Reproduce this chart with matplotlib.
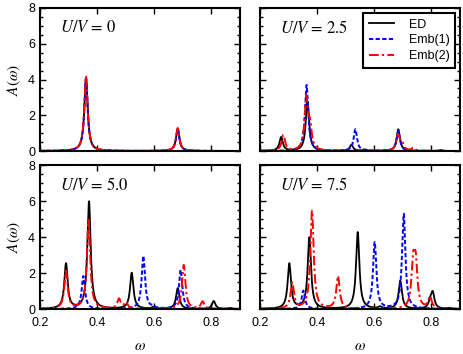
import numpy as np
import matplotlib

matplotlib.use("Agg")
import matplotlib.pyplot as plt
from matplotlib.ticker import MultipleLocator

# peak positions (omega) and heights, one list per panel
U_LABELS = ["0", "2.5", "5.0", "7.5"]

ED_POS = [
    [0.361, 0.682],
    [0.274, 0.366, 0.520, 0.567, 0.684, 0.832],
    [0.291, 0.3715, 0.521, 0.598, 0.682, 0.808, 0.865],
    [0.3026, 0.3727, 0.542, 0.620, 0.691, 0.796, 0.8045, 0.862],
]
ED_HGT = [
    [4.10, 1.25],
    [0.77, 2.80, 0.34, 0.08, 1.21, 0.05],
    [2.50, 5.96, 2.00, 0.10, 1.15, 0.44, 0.05],
    [2.50, 3.96, 4.26, 0.10, 1.56, 0.35, 0.85, 0.05],
]

EMB1_POS = [
    [0.361, 0.682],
    [0.363, 0.5336, 0.684],
    [0.3517, 0.5617, 0.595, 0.6923],
    [0.3517, 0.6014, 0.703],
]
EMB1_HGT = [
    [4.05, 1.22],
    [3.69, 1.21, 1.12],
    [1.83, 2.94, 0.10, 2.17],
    [1.02, 3.70, 5.28],
]

EMB2_POS = [
    [0.361, 0.682],
    [0.2816, 0.362, 0.375, 0.683, 0.696, 0.7366],
    [0.291, 0.370, 0.4765, 0.501, 0.703, 0.769],
    [0.313, 0.382, 0.473, 0.736, 0.745, 0.795],
]
EMB2_HGT = [
    [4.16, 1.28],
    [0.88, 2.85, 1.20, 0.85, 0.45, 0.15],
    [2.10, 4.94, 0.54, 0.35, 2.44, 0.40],
    [1.43, 5.44, 1.80, 2.30, 2.30, 0.65],
]

ETA = 0.007
omega = np.linspace(0.2, 0.9, 2801)


def spectrum(pos, hgt, eta=ETA):
    a = np.zeros_like(omega)
    for w0, h in zip(pos, hgt):
        a += h * eta ** 2 / ((omega - w0) ** 2 + eta ** 2)
    return a


plt.rcParams["font.family"] = ["Liberation Sans", "DejaVu Sans"]
plt.rcParams["mathtext.fontset"] = "stix"
plt.rcParams["axes.linewidth"] = 1.5

fig = plt.figure(figsize=(4.63, 3.54), dpi=100)
W, H = 463.0, 354.0
lefts = [40 / W, 260 / W]
boxes = [
    (lefts[0], 1 - 151 / H, 200 / W, 143 / H),
    (lefts[1], 1 - 151 / H, 200 / W, 143 / H),
    (lefts[0], 1 - 309 / H, 200 / W, 144 / H),
    (lefts[1], 1 - 309 / H, 200 / W, 144 / H),
]

for i, box in enumerate(boxes):
    ax = fig.add_axes(box)
    ax.plot(omega, spectrum(ED_POS[i], ED_HGT[i]), color="black", lw=1.3,
            label="ED")
    ax.plot(omega, spectrum(EMB1_POS[i], EMB1_HGT[i]), color="blue", lw=1.4,
            linestyle=(0, (2.2, 1.2)), label="Emb(1)")
    ax.plot(omega, spectrum(EMB2_POS[i], EMB2_HGT[i]), color="red", lw=1.4,
            linestyle=(0, (5, 1.6, 1.2, 1.6)), label="Emb(2)")
    ax.set_xlim(0.2, 0.9)
    ax.set_ylim(0, 8)
    ax.xaxis.set_major_locator(MultipleLocator(0.2))
    ax.yaxis.set_major_locator(MultipleLocator(2))
    ax.yaxis.set_minor_locator(MultipleLocator(0.5))
    ax.tick_params(which="both", direction="in", top=True, right=True,
                   labelsize=9, width=1.0)
    ax.tick_params(which="major", length=4)
    ax.tick_params(which="minor", length=2.5)
    ax.tick_params(axis="x", pad=6)
    ax.text(0.1, 0.86, rf"$U/V$ = {U_LABELS[i]}", transform=ax.transAxes,
            fontsize=12, family="STIXGeneral", va="center")
    if i < 2:
        ax.set_xticklabels([])
    else:
        ax.set_xlabel(r"$\omega$", fontsize=11, labelpad=7)
    if i % 2 == 1:
        ax.set_yticklabels([])
    else:
        ax.set_ylabel(r"$A(\omega)$", fontsize=11)
    if i == 1:
        leg = ax.legend(loc="upper right", fontsize=9, fancybox=False,
                        framealpha=1, edgecolor="black", borderaxespad=0.4,
                        handlelength=2.0, handletextpad=1.2,
                        labelspacing=0.3, borderpad=0.45)
        leg.get_frame().set_linewidth(1.5)

fig.savefig("out.png", dpi=100)
